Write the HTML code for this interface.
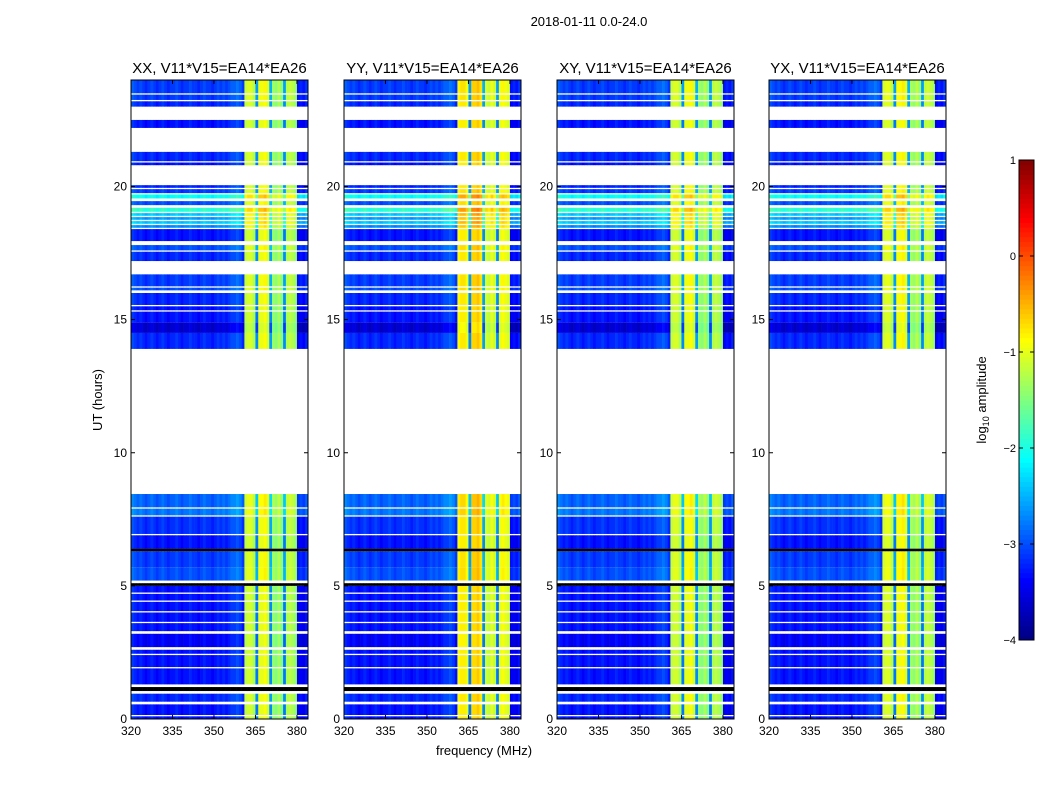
<!DOCTYPE html>
<html><head><meta charset="utf-8"><style>
body{margin:0;background:#fff;}
svg{display:block;font-family:"Liberation Sans","DejaVu Sans",sans-serif;}
</style></head><body>
<svg id="fig" width="1050" height="800" viewBox="0 0 1050 800" xmlns="http://www.w3.org/2000/svg">
<rect width="1050" height="800" fill="#fff"/>
<text x="589" y="26" font-size="13" text-anchor="middle">2018-01-11 0.0-24.0</text>
<text x="484" y="755" font-size="13" text-anchor="middle">frequency (MHz)</text>
<text transform="translate(102,400) rotate(-90)" font-size="13" text-anchor="middle">UT (hours)</text>
<g id="panels"></g>
<g id="cbar"></g>
</svg>
<script>
// ---- data ----
const panelTitles = ["XX, V11*V15=EA14*EA26","YY, V11*V15=EA14*EA26","XY, V11*V15=EA14*EA26","YX, V11*V15=EA14*EA26"];
const panelBandOffset = [0, 0.3, 0, 0.05];
const freqStart = 320; // MHz, 1 MHz channels
const channelLevel = [
 -3.1,-3.2,-3.3,-3.2,-3.3,-3.4,-3.3,-3.2,-3.3,-3.4,
 -3.3,-3.2,-3.3,-3.4,-3.3,-3.3,-3.2,-3.3,-3.4,-3.3,
 -3.3,-3.2,-3.3,-3.3,-3.4,-3.3,-3.2,-3.3,-3.3,-3.4,
 -3.3,-3.2,-3.3,-3.2,-3.3,-3.2,-3.1,-3.1,-3.0,-3.1,
 -3.3,-1.2,-1.1,-1.1,-1.3,-2.8,-1.0,-1.0,-0.9,-1.1,
 -2.7,-1.4,-1.5,-1.3,-1.5,-2.8,-1.3,-1.2,-1.3,-1.4,
 -3.5,-3.4,-3.5,-3.3
];
const segStart = [0,0.15,0.65,1.05,1.3,1.95,2.45,2.7,3.3,3.65,4.05,4.45,4.75,5.0,5.2,5.7,6.3,6.4,6.95,7.65,7.95,
 13.9,14.5,14.9,15.35,15.55,16.1,16.25,17.2,17.6,17.95,18.45,18.6,18.75,18.9,19.05,19.3,19.55,19.75,19.95,20.8,20.95,22.2,23.0,23.25,23.5];
const segEnd = [0.1,0.55,0.95,1.2,1.9,2.4,2.6,3.2,3.6,4.0,4.4,4.7,5.0,5.1,5.7,6.3,6.4,6.9,7.6,7.9,8.45,
 14.5,14.9,15.3,15.5,16.0,16.2,16.7,17.55,17.8,18.4,18.55,18.7,18.85,19.0,19.2,19.45,19.7,19.9,20.05,20.9,21.3,22.5,23.2,23.45,24];
const segOffset = [0,0,0.1,-3,0,0,0,-0.1,0,0,0,0,0,-3,0.3,0.2,-3,0,0.15,0.5,0.4,
 0.1,-0.3,0,0,0.1,0.3,0.2,0.1,0.3,0,0.6,0.9,0.7,0.9,1.4,0.3,1.2,0.2,0.1,0,0.1,0,0.1,0.2,0.2];
const xTicks = [320,335,350,365,380];
const yTicks = [0,5,10,15,20];
const cbTicks = [1,0,-1,-2,-3,-4];

// ---- geometry ----
const panelX = [131,344,557,769], PW = 177, PT = 80, PB = 719;
const fMin = 320, fMax = 384, vMin = -4, vMax = 1;
const NS = "http://www.w3.org/2000/svg";
function xs(p,f){return panelX[p] + (f - fMin)/(fMax - fMin)*PW;}
function ys(h){return PB - h/24*(PB-PT);}
function jet(v){
  if(v < -4.3) return "#000";
  let t=(v - vMin)/(vMax - vMin); t=Math.max(0,Math.min(1,t));
  const f=x=>Math.round(255*Math.max(0,Math.min(1,x)));
  return `rgb(${f(1.5-Math.abs(4*t-3))},${f(1.5-Math.abs(4*t-2))},${f(1.5-Math.abs(4*t-1))})`;
}
function mk(tag, attrs, parent){const e=document.createElementNS(NS,tag);for(const k in attrs)e.setAttribute(k,attrs[k]);parent.appendChild(e);return e;}

const G = document.getElementById('panels');
for(let p=0;p<4;p++){
  const g = mk('g',{},G);
  
  
  for(let s=0;s<segStart.length;s++){
    const y1=ys(segEnd[s]), y0=ys(segStart[s]);
    for(let c=0;c<channelLevel.length;c++){
      const f=freqStart+c;
      const inBand = channelLevel[c] > -2.0;
      const dark = segOffset[s] < -2;
      const v = dark ? channelLevel[c] + segOffset[s] - 3 :
        channelLevel[c] + (inBand ? 0.3*segOffset[s] + panelBandOffset[p] : segOffset[s]);
      const r = mk('rect',{x:xs(p,f).toFixed(2),y:y1.toFixed(2),width:(xs(p,f+1)-xs(p,f)+0.3).toFixed(2),height:(y0-y1).toFixed(2),fill:jet(v)},g);
      
      
    }
  }
  const fr = mk('rect',{x:panelX[p],y:PT,width:PW,height:PB-PT,fill:'none',stroke:'#000','stroke-width':1},g);
  
  
  const tt = mk('text',{x:panelX[p]+PW/2,y:73,'font-size':15,'text-anchor':'middle'},g);
  tt.textContent = panelTitles[p];
  
  
  for(const t of xTicks){
    const x=xs(p,t);
    mk('line',{x1:x,x2:x,y1:PB,y2:PB-4,stroke:'#000'},g);
    mk('line',{x1:x,x2:x,y1:PT,y2:PT+4,stroke:'#000'},g);
    const l=mk('text',{x:x,y:PB+16,'font-size':12,'text-anchor':'middle'},g);
    l.textContent=t;
    
    
  }
  for(const t of yTicks){
    const y=ys(t);
    mk('line',{x1:panelX[p],x2:panelX[p]+4,y1:y,y2:y,stroke:'#000'},g);
    mk('line',{x1:panelX[p]+PW,x2:panelX[p]+PW-4,y1:y,y2:y,stroke:'#000'},g);
    const l=mk('text',{x:panelX[p]-4,y:y+4,'font-size':12,'text-anchor':'end'},g);
    l.textContent=t;
    
    
  }
}

// colorbar
const CB = document.getElementById('cbar');
const cbX=1019, cbW=15, cbT=160, cbB=640;
function cy(v){return cbB - (v - vMin)/(vMax - vMin)*(cbB-cbT);}
for(let i=0;i<100;i++){
  const v0=vMin+i*(vMax-vMin)/100, v1=vMin+(i+1)*(vMax-vMin)/100;
  mk('rect',{x:cbX,y:cy(v1).toFixed(2),width:cbW,height:(cy(v0)-cy(v1)+0.5).toFixed(2),fill:jet((v0+v1)/2)},CB);
}
const cbf=mk('rect',{x:cbX,y:cbT,width:cbW,height:cbB-cbT,fill:'none',stroke:'#000'},CB);


for(const t of cbTicks){
  const y=cy(t);
  mk('line',{x1:cbX,x2:cbX+4,y1:y,y2:y,stroke:'#000'},CB);
  mk('line',{x1:cbX+cbW,x2:cbX+cbW-4,y1:y,y2:y,stroke:'#000'},CB);
  const l=mk('text',{x:cbX-3,y:y+4,'font-size':11,'text-anchor':'end'},CB);
  l.textContent = t<0 ? '\u2212'+(-t) : t;
  
  
}
const cl=mk('text',{transform:'translate(986,400) rotate(-90)','font-size':13,'text-anchor':'middle'},CB);
cl.innerHTML='log<tspan font-size="9" dy="3">10</tspan><tspan dy="-3"> amplitude</tspan>';


</script>
</body></html>
